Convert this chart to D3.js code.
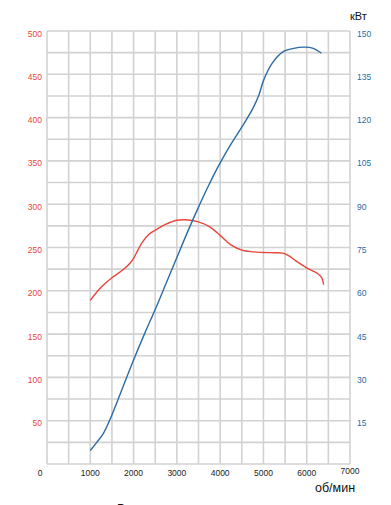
<!DOCTYPE html>
<html>
<head>
<meta charset="utf-8">
<script src="https://cdn.jsdelivr.net/npm/d3@7"></script>
<style>
body { margin: 0; background: #fff; }
text { font-family: "Liberation Sans", Arial, sans-serif; }
</style>
</head>
<body>
<script>
// torque curve, Nm (left axis)
var torqueRpm = [1000, 1250, 1500, 1750, 1900, 2000, 2100, 2200, 2350, 2500, 2750, 3000, 3200, 3500, 3750, 4000, 4250, 4500, 4750, 5000, 5250, 5450, 5600, 5750, 6000, 6250, 6350, 6390];
var torqueNm  = [189, 204, 215, 224, 231, 237.5, 247, 256, 265, 270, 277, 281.5, 282, 279.5, 274, 264, 253, 247, 245, 244.3, 244, 243.5, 240, 234.5, 226.5, 220, 215, 207];

// power curve, kW (right axis)
var powerRpm = [1000, 1150, 1300, 1500, 1750, 2000, 2250, 2500, 2750, 3000, 3250, 3500, 3750, 4000, 4250, 4500, 4750, 4900, 5000, 5200, 5450, 5700, 5950, 6150, 6340];
var powerKw  = [4.7, 7.5, 10.5, 17, 26.5, 36, 45, 53.5, 62.5, 71.5, 80.5, 89, 97, 104.3, 110.8, 116.7, 123, 128, 132.8, 138.8, 142.8, 144, 144.4, 144, 142.3];

var rpmTicks = [0, 1000, 2000, 3000, 4000, 5000, 6000, 7000];
var nmTicks = [50, 100, 150, 200, 250, 300, 350, 400, 450, 500];
var kwTicks = [15, 30, 45, 60, 75, 90, 105, 120, 135, 150];

var W = 391, H = 505;
var plotL = 47, plotR = 350, plotT = 31, plotB = 464;
var red = "#e8453c", blue = "#2c6ba4";

var svg = d3.select("body").append("svg")
    .attr("width", W)
    .attr("height", H);

var x = d3.scaleLinear().domain([0, 7000]).range([plotL, plotR]);
var yNm = d3.scaleLinear().domain([0, 500]).range([plotB, plotT]);
var yKw = d3.scaleLinear().domain([0, 150]).range([plotB, plotT]);

// grid: every 500 rpm and every 25 Nm
var grid = svg.append("g")
    .attr("stroke", "#d2d2d2")
    .attr("stroke-width", 1.6);

grid.selectAll("line.v")
    .data(d3.range(0, 7001, 500))
    .enter().append("line")
    .attr("class", "v")
    .attr("x1", d => x(d)).attr("x2", d => x(d))
    .attr("y1", plotT).attr("y2", plotB);

grid.selectAll("line.h")
    .data(d3.range(0, 501, 25))
    .enter().append("line")
    .attr("class", "h")
    .attr("x1", plotL).attr("x2", plotR)
    .attr("y1", d => yNm(d)).attr("y2", d => yNm(d));

// left axis labels
svg.append("g").selectAll("text")
    .data(nmTicks)
    .enter().append("text")
    .attr("x", 42)
    .attr("y", d => yNm(d) + 5.5)
    .attr("text-anchor", "end")
    .attr("font-size", 8.5)
    .attr("fill", red)
    .text(d => d);

// right axis labels
svg.append("g").selectAll("text")
    .data(kwTicks)
    .enter().append("text")
    .attr("x", 357)
    .attr("y", d => yKw(d) + 5.5)
    .attr("font-size", 8.5)
    .attr("fill", blue)
    .text(d => d);

// bottom labels
svg.append("g").selectAll("text")
    .data(rpmTicks)
    .enter().append("text")
    .attr("x", d => d === 0 ? 40 : x(d))
    .attr("y", d => d === 7000 ? 474 : 476)
    .attr("text-anchor", "middle")
    .attr("font-size", 8.5)
    .attr("fill", "#222")
    .text(d => d);

svg.append("text")
    .attr("x", 350).attr("y", 20)
    .attr("font-size", 11)
    .attr("fill", "#111")
    .text("кВт");

svg.append("text")
    .attr("x", 315).attr("y", 492)
    .attr("font-size", 12.5)
    .attr("fill", "#111")
    .text("об/мин");

svg.append("text")
    .attr("x", 117).attr("y", 513)
    .attr("font-size", 12)
    .attr("fill", "#111")
    .text("Р");

// curves
var torqueLine = d3.line()
    .x((d, i) => x(torqueRpm[i]))
    .y(d => yNm(d))
    .curve(d3.curveCatmullRom.alpha(0.5));

var powerLine = d3.line()
    .x((d, i) => x(powerRpm[i]))
    .y(d => yKw(d))
    .curve(d3.curveCatmullRom.alpha(0.5));

svg.append("path")
    .attr("d", torqueLine(torqueNm))
    .attr("fill", "none")
    .attr("stroke", red)
    .attr("stroke-width", 1.4);

svg.append("path")
    .attr("d", powerLine(powerKw))
    .attr("fill", "none")
    .attr("stroke", blue)
    .attr("stroke-width", 1.4);
</script>
</body>
</html>
